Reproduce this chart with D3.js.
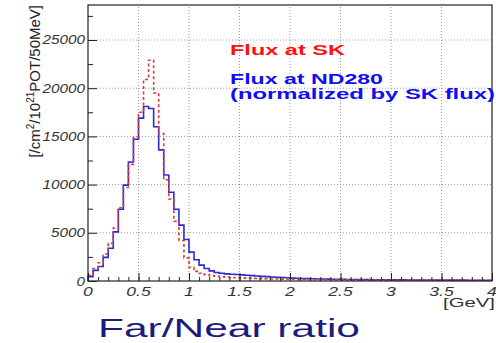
<!DOCTYPE html>
<html>
<head>
<meta charset="utf-8">
<script src="https://cdn.jsdelivr.net/npm/d3@7"></script>
<style>
  body { margin: 0; background: #fff; }
  svg { display: block; font-family: "Liberation Sans", Arial, sans-serif; }
</style>
</head>
<body>
<svg id="chart" width="496" height="343"></svg>
<script>
// flux per 50 MeV bin, 0 - 4 GeV (80 bins)
var binWidth = 0.05;

var fluxSK = [
  600, 1300, 1900, 2800, 3900, 5500, 7600, 9700, 12100, 14900,
  17500, 20900, 22900, 19500, 15300, 10500, 8500, 6200, 4200, 2400,
  1400, 1000, 800, 660, 560, 490, 440, 400, 370, 340,
  320, 300, 280, 260, 245, 230, 215, 205, 195, 185,
  175, 165, 160, 150, 145, 140, 135, 130, 125, 120,
  115, 112, 108, 105, 102, 100, 97, 95, 92, 90,
  88, 86, 84, 95, 80, 78, 76, 74, 72, 70,
  68, 66, 80, 64, 62, 60, 58, 56, 55, 54
];

var fluxND = [
  450, 1100, 1500, 2450, 3400, 5100, 7450, 9950, 12350, 14700,
  16900, 18100, 17900, 16000, 13600, 11000, 9200, 7450, 5800, 4300,
  3000, 2200, 1650, 1300, 1050, 880, 800, 740, 700, 670,
  640, 600, 560, 520, 480, 450, 420, 390, 360, 330,
  300, 280, 260, 245, 230, 215, 205, 195, 185, 175,
  170, 160, 155, 150, 145, 140, 135, 130, 125, 120,
  118, 115, 112, 110, 107, 105, 102, 100, 98, 96,
  94, 92, 90, 88, 86, 84, 82, 80, 78, 76
];

var xTicks = [0, 0.5, 1, 1.5, 2, 2.5, 3, 3.5, 4];
var yTicks = [0, 5000, 10000, 15000, 20000, 25000];

var svg = d3.select('#chart');

var x = d3.scaleLinear().domain([0, 4]).range([88, 492]);
var y = d3.scaleLinear().domain([0, 28630]).range([281, 5]);

// stretch horizontal text a bit, the original picture is wider than tall
function stretch(sel, k) {
  sel.each(function() {
    var w = this.getComputedTextLength();
    d3.select(this).attr('textLength', w * k).attr('lengthAdjust', 'spacingAndGlyphs');
  });
}

// grid
svg.append('g')
  .selectAll('line')
  .data(xTicks.slice(1, -1))
  .enter().append('line')
    .attr('x1', function(d) { return x(d); })
    .attr('x2', function(d) { return x(d); })
    .attr('y1', y.range()[0])
    .attr('y2', y.range()[1])
    .attr('stroke', '#9a9a9a')
    .attr('stroke-width', 1)
    .attr('stroke-dasharray', '1,2');

svg.append('g')
  .selectAll('line')
  .data(yTicks.slice(1))
  .enter().append('line')
    .attr('x1', x.range()[0])
    .attr('x2', x.range()[1])
    .attr('y1', function(d) { return y(d); })
    .attr('y2', function(d) { return y(d); })
    .attr('stroke', '#9a9a9a')
    .attr('stroke-width', 1)
    .attr('stroke-dasharray', '1,2');

// histograms
function steps(vals) {
  var pts = [[0, 0]];
  vals.forEach(function(v, i) { pts.push([i * binWidth, v]); });
  pts.push([vals.length * binWidth, vals[vals.length - 1]]);
  return pts;
}

var line = d3.line()
  .x(function(d) { return x(d[0]); })
  .y(function(d) { return y(d[1]); })
  .curve(d3.curveStepAfter);

svg.append('path')
  .attr('d', line(steps(fluxND)))
  .attr('fill', 'none')
  .attr('stroke', '#2a2ad8')
  .attr('stroke-width', 1.6);

svg.append('path')
  .attr('d', line(steps(fluxSK)))
  .attr('fill', 'none')
  .attr('stroke', '#e03a3a')
  .attr('stroke-width', 1.6)
  .attr('stroke-dasharray', '3,2.5');

// frame
svg.append('rect')
  .attr('x', x.range()[0])
  .attr('y', y.range()[1])
  .attr('width', x.range()[1] - x.range()[0])
  .attr('height', y.range()[0] - y.range()[1])
  .attr('fill', 'none')
  .attr('stroke', '#222')
  .attr('stroke-width', 1.2);

// axes, ticks pointing inward
var xAxis = d3.axisTop(x).tickValues(xTicks).tickSize(8).tickFormat('');
var xMinor = d3.axisTop(x).tickValues(d3.range(0, 4.001, 0.1)).tickSize(4).tickFormat('');
var yAxis = d3.axisRight(y).tickValues(yTicks).tickSize(9).tickFormat('');
var yMinor = d3.axisRight(y).tickValues(d3.range(2500, 28000, 5000)).tickSize(5).tickFormat('');

[xAxis, xMinor].forEach(function(a) {
  svg.append('g')
    .attr('transform', 'translate(0,' + y(0) + ')')
    .call(a)
    .call(function(g) { g.select('.domain').remove(); g.selectAll('line').attr('stroke', '#222'); });
});
[yAxis, yMinor].forEach(function(a) {
  svg.append('g')
    .attr('transform', 'translate(' + x(0) + ',0)')
    .call(a)
    .call(function(g) { g.select('.domain').remove(); g.selectAll('line').attr('stroke', '#222'); });
});

// tick labels
svg.append('g')
  .selectAll('text')
  .data(yTicks)
  .enter().append('text')
    .attr('x', 85)
    .attr('y', function(d) { return y(d) + 4.5; })
    .attr('text-anchor', 'end')
    .attr('font-size', 12.5)
    .attr('font-style', 'italic')
    .attr('fill', '#333')
    .text(function(d) { return d; })
    .call(stretch, 1.22);

svg.append('g')
  .selectAll('text')
  .data(xTicks)
  .enter().append('text')
    .attr('x', function(d) { return x(d); })
    .attr('y', 296)
    .attr('text-anchor', 'middle')
    .attr('font-size', 13.5)
    .attr('font-style', 'italic')
    .attr('fill', '#333')
    .text(function(d) { return d; })
    .call(stretch, 1.3);

svg.append('text')
  .attr('x', 495)
  .attr('y', 307)
  .attr('text-anchor', 'end')
  .attr('font-size', 13)
  .attr('fill', '#333')
  .attr('textLength', 52)
  .attr('lengthAdjust', 'spacingAndGlyphs')
  .text('[GeV]');

// y title
var yt = svg.append('text')
  .attr('transform', 'translate(40,5) rotate(-90)')
  .attr('text-anchor', 'end')
  .attr('font-size', 15)
  .attr('fill', '#222');
yt.append('tspan').text('[/cm');
yt.append('tspan').attr('font-size', 10).attr('dy', -6).text('2');
yt.append('tspan').attr('dy', 6).text('/10');
yt.append('tspan').attr('font-size', 10).attr('dy', -6).text('21');
yt.append('tspan').attr('dy', 6).text('POT/50MeV]');

// legend
var legend = [
  { text: 'Flux at SK', color: '#ff1010', y: 55, w: 115 },
  { text: 'Flux at ND280', color: '#1010ee', y: 84, w: 153 },
  { text: '(normalized by SK flux)', color: '#1010ee', y: 99, w: 265 }
];
svg.append('g')
  .selectAll('text')
  .data(legend)
  .enter().append('text')
    .attr('x', 230)
    .attr('y', function(d) { return d.y; })
    .attr('font-size', 14)
    .attr('font-weight', 'bold')
    .attr('fill', function(d) { return d.color; })
    .attr('textLength', function(d) { return d.w; })
    .attr('lengthAdjust', 'spacingAndGlyphs')
    .text(function(d) { return d.text; });

// caption under the plot
svg.append('text')
  .attr('x', 98)
  .attr('y', 337)
  .attr('font-size', 25)
  .attr('fill', '#1c1c7c')
  .attr('textLength', 262)
  .attr('lengthAdjust', 'spacingAndGlyphs')
  .text('Far/Near ratio');
</script>
</body>
</html>
